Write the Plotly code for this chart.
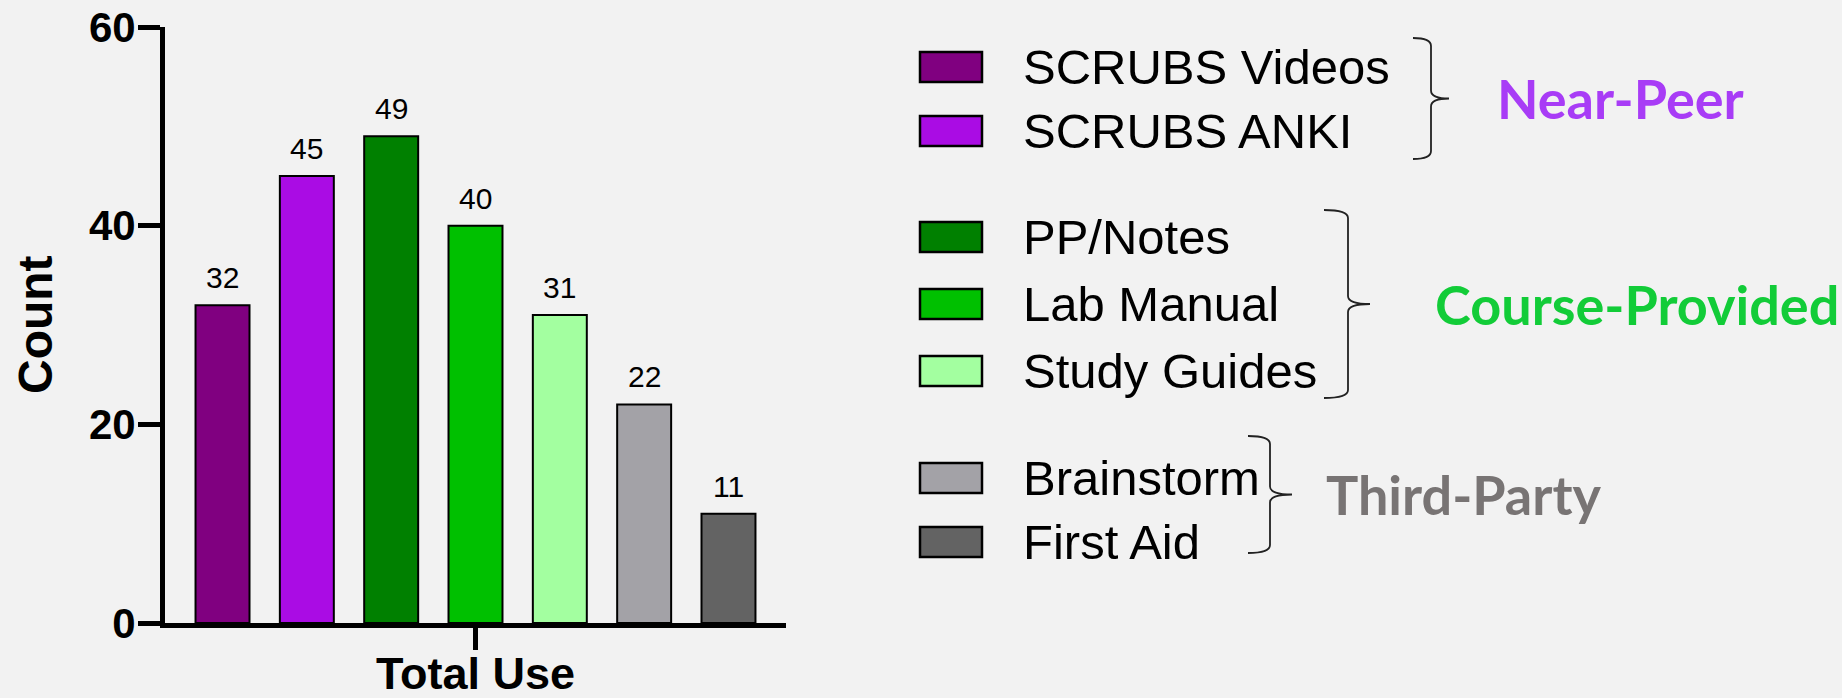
import plotly.graph_objects as go

# ---------- data ----------
categories = ["SCRUBS Videos", "SCRUBS ANKI", "PP/Notes", "Lab Manual",
              "Study Guides", "Brainstorm", "First Aid"]
counts = [32, 45, 49, 40, 31, 22, 11]
bar_colors = ["#800080", "#AA0CE4", "#008000", "#00C000",
              "#A3FFA0", "#A3A2A7", "#636363"]
y_ticks = [0, 20, 40, 60]
x_label = "Total Use"
y_label = "Count"

group_names = ["Near-Peer", "Course-Provided", "Third-Party"]
group_members = [[0, 1], [2, 3, 4], [5, 6]]
group_colors = ["#A83CF6", "#12CC38", "#787474"]

# ---------- layout helpers (pixel positions of the legend panel) ----------
W, H = 1842, 698
ARIAL = "Arial, Liberation Sans, sans-serif"
CALIBRI = "Lato, Carlito, Calibri, sans-serif"

legend_rows_y = [67, 131, 237, 304, 371, 478, 542]
# brace: (left end x, spine x, tip x, top y, bottom y) and label left x
braces = [(1413, 1431, 1449, 38, 159), (1324, 1348, 1370, 210, 398),
          (1248, 1270, 1292, 436, 553)]
group_label_x = [1495, 1433, 1324]


def px(x):
    return x / W


def py(y):
    return 1 - y / H


def brace_path(x0, xs, xt, yt, yb, r=8):
    ym = (yt + yb) / 2
    pts = [
        f"M {px(x0)},{py(yt)}",
        f"Q {px(xs)},{py(yt)} {px(xs)},{py(yt + r)}",
        f"L {px(xs)},{py(ym - r)}",
        f"Q {px(xs)},{py(ym)} {px(xt)},{py(ym)}",
        f"Q {px(xs)},{py(ym)} {px(xs)},{py(ym + r)}",
        f"L {px(xs)},{py(yb - r)}",
        f"Q {px(xs)},{py(yb)} {px(x0)},{py(yb)}",
    ]
    return " ".join(pts)


fig = go.Figure(go.Bar(
    x=list(range(len(categories))),
    y=counts,
    width=0.64,
    marker=dict(color=bar_colors, line=dict(color="black", width=2)),
    hovertext=categories,
    hoverinfo="text+y",
    showlegend=False,
))

# value labels above bars
for i, v in enumerate(counts):
    fig.add_annotation(x=i, y=v, text=str(v), showarrow=False,
                       yanchor="bottom", yshift=9,
                       font=dict(family=ARIAL, size=30, color="black"))

# axis title "Count"
fig.add_annotation(x=px(35), y=py(325), xref="paper", yref="paper",
                   text=y_label, textangle=-90, showarrow=False,
                   xanchor="center", yanchor="middle",
                   font=dict(family=ARIAL, size=48, color="black", weight="bold"))

# hand-drawn legend with group braces
for i, (name, color) in enumerate(zip(categories, bar_colors)):
    cy = legend_rows_y[i]
    fig.add_shape(type="rect", xref="paper", yref="paper",
                  x0=px(920), x1=px(982), y0=py(cy + 15), y1=py(cy - 15),
                  fillcolor=color, line=dict(color="black", width=2.5))
    fig.add_annotation(x=px(1021), y=py(cy), xref="paper", yref="paper",
                       text=name, showarrow=False, xanchor="left", yanchor="middle",
                       font=dict(family=ARIAL, size=49, color="black"))

for g, name in enumerate(group_names):
    x0, xs, xt, yt, yb = braces[g]
    fig.add_shape(type="path", xref="paper", yref="paper",
                  path=brace_path(x0, xs, xt, yt, yb),
                  line=dict(color="#222222", width=1.8))
    fig.add_annotation(x=px(group_label_x[g]), y=py((yt + yb) / 2),
                       xref="paper", yref="paper", text=name, showarrow=False,
                       xanchor="left", yanchor="middle",
                       font=dict(family=CALIBRI, size=54, color=group_colors[g],
                                 weight="bold"))

fig.update_layout(
    width=W, height=H,
    margin=dict(l=0, r=0, t=0, b=0),
    paper_bgcolor="#F2F2F2",
    plot_bgcolor="#F2F2F2",
    xaxis=dict(
        domain=[px(165), px(786)],
        range=[-0.682, 6.682],
        automargin=False,
        tickvals=[3], ticktext=[x_label],
        tickfont=dict(family=ARIAL, size=45, color="black", weight="bold"),
        ticklabelstandoff=-15,
        ticks="outside", ticklen=22, tickwidth=5, tickcolor="black",
        showline=True, linewidth=5, linecolor="black",
        showgrid=False, zeroline=False,
    ),
    yaxis=dict(
        domain=[py(623), py(27)],
        range=[0, 60],
        automargin=False,
        tickvals=y_ticks,
        tickfont=dict(family=ARIAL, size=42, color="black", weight="bold"),
        ticklabelstandoff=-6,
        ticks="outside", ticklen=22, tickwidth=5, tickcolor="black",
        showline=True, linewidth=5, linecolor="black",
        showgrid=False, zeroline=False,
    ),
)

fig.write_html("out.html", config={"displayModeBar": False},
               post_script="document.body.style.margin='0';")
